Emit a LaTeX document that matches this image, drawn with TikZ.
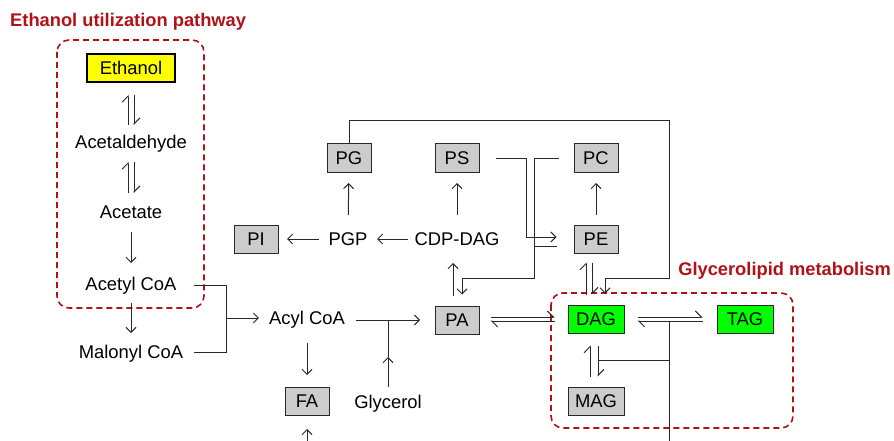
\documentclass[tikz,border=0pt]{standalone}
\usepackage{fontspec}
\setmainfont{Liberation Sans}
\usetikzlibrary{arrows.meta}
\definecolor{dred}{RGB}{176,18,24}
\definecolor{lgray}{RGB}{204,204,204}
\definecolor{lcol}{RGB}{40,40,40}
\definecolor{bgreen}{RGB}{0,255,0}
\definecolor{byellow}{RGB}{255,255,0}
\tikzset{
  txt/.style={font=\fontsize{18.4}{20}\selectfont, inner sep=0pt},
  ttl/.style={font=\fontsize{18.3}{20}\selectfont\bfseries, text=dred, inner sep=0pt, anchor=west},
  gbox/.style={txt, draw=lcol, line width=1pt, fill=lgray, minimum width=44pt, minimum height=28pt},
  wbox/.style={gbox, minimum width=56pt},
  grbox/.style={wbox, fill=bgreen},
  ybox/.style={txt, draw=black, line width=1.6pt, fill=byellow, minimum width=88pt, minimum height=28pt},
  conn/.style={draw=lcol, line width=1pt},
  arr/.style={conn, -{Straight Barb[length=5pt,width=10pt]}},
  harp/.style={conn, -{Straight Barb[left,length=6pt,width=12pt]}},
  region/.style={draw=dred, line width=1.6pt, dash pattern=on 6pt off 4pt, rounded corners=12pt},
}
\begin{document}
\begin{tikzpicture}[x=1pt,y=-1pt]
\useasboundingbox (0,0) rectangle (894,441);
% titles and regions
\node[ttl] (t1) at (10,22) {Ethanol utilization pathway};
\node[ttl, anchor=east] (t2) at (891,271) {Glycerolipid metabolism};
\draw[region] (57,40) rectangle (204,308);
\draw[region] (551,293) rectangle (793,428);
% nodes
\node[ybox] (eth) at (131,68) {Ethanol};
\node[txt] (ald) at (131,144) {Acetaldehyde};
\node[txt] (ace) at (131,212) {Acetate};
\node[txt] (acc) at (131,286) {Acetyl CoA};
\node[txt] (mal) at (131,354) {Malonyl CoA};
\node[txt] (acyl) at (307,320) {Acyl CoA};
\node[gbox] (fa) at (307,401) {FA};
\node[txt] (gly) at (388,404) {Glycerol};
\node[gbox] (pa) at (457,320) {PA};
\node[gbox] (pi) at (256,239) {PI};
\node[txt] (pgp) at (348,239) {PGP};
\node[txt] (cdp) at (457,239) {CDP-DAG};
\node[gbox] (pg) at (349,158) {PG};
\node[gbox] (ps) at (457,158) {PS};
\node[gbox] (pc) at (596,158) {PC};
\node[gbox] (pe) at (596,239) {PE};
\node[grbox] (dag) at (596,319) {DAG};
\node[grbox] (tag) at (745,319) {TAG};
\node[wbox] (mag) at (596,401) {MAG};
% coordinates
\coordinate (j1) at (226,318);
\coordinate (gm) at (388,357);
\coordinate (fabot) at (307,441);
\coordinate (lp1) at (669,121);
\coordinate (lp2) at (605,278);
\coordinate (psj) at (526,237);
\coordinate (pcj) at (534,278);
\coordinate (tj) at (669,321);
\coordinate (tbot) at (669,441);
\coordinate (mj) at (598,360);
% ethanol pathway
\draw[harp, shorten <=19pt, shorten >=27pt] ([xshift=-3pt]ald.center) -- ([xshift=-3pt]eth.center);
\draw[harp, shorten <=27pt, shorten >=19pt] ([xshift=3pt]eth.center) -- ([xshift=3pt]ald.center);
\draw[harp, shorten <=19pt, shorten >=18pt] ([xshift=-3pt]ace.center) -- ([xshift=-3pt]ald.center);
\draw[harp, shorten <=18pt, shorten >=19pt] ([xshift=3pt]ald.center) -- ([xshift=3pt]ace.center);
\draw[arr, shorten <=20pt, shorten >=23pt] (ace.center) -- (acc.center);
\draw[arr, shorten <=17pt, shorten >=21pt] (acc.center) -- (mal.center);
\draw[conn] ([xshift=63pt,yshift=1pt]acc.center) -| (j1);
\draw[conn] ([xshift=63pt,yshift=2pt]mal.center) -| (j1);
\draw[arr, shorten >=10pt] (j1) -- (j1 -| acyl.west);
% acyl CoA
\draw[arr, shorten <=49pt, shorten >=37pt] (acyl.center) -- (pa.center);
\draw[arr, shorten <=17pt] (gly.center) -- (gm);
\draw[conn] (gm) -- (gly.center |- acyl.center);
\draw[arr, shorten <=23pt, shorten >=26pt] (acyl.center) -- (fa.center);
\draw[arr, shorten >=28pt] (fabot) -- (fa.center);
% phospholipids
\draw[arr, shorten <=49pt, shorten >=29pt] (cdp.center) -- (pgp.center);
\draw[arr, shorten <=29pt, shorten >=31pt] (pgp.center) -- (pi.center);
\draw[arr, shorten <=24pt, shorten >=25pt] (pgp.center) -- (pg.center);
\draw[arr, shorten <=24pt, shorten >=25pt] (cdp.center) -- (ps.center);
\draw[arr, shorten <=24pt, shorten >=25pt] (pe.center) -- (pc.center);
\draw[arr, shorten <=10pt, shorten >=24pt] ([xshift=-4pt]pa.north) -- ([xshift=-4pt]cdp.center);
\draw[arr, shorten >=11pt] (pg.north) |- (lp1) |- (lp2) -- (lp2 |- dag.north);
\draw[arr, shorten >=17pt] ([xshift=16pt]ps.east) -| (psj) -- (psj -| pe.west);
\draw[arr, shorten >=11pt] ([xshift=-15pt]pc.west) -| (pcj) -| ([xshift=5pt]pa.north);
\draw[conn] ([xshift=-17pt,yshift=-7pt]pe.west) -- ([yshift=-7pt]pe.west -| pcj);
% glycerolipids
\draw[harp, shorten <=11pt, shorten >=13pt] ([yshift=3pt]pa.east) -- ([yshift=2pt]dag.west);
\draw[harp, shorten <=13pt, shorten >=11pt] ([yshift=-2pt]dag.west) -- ([yshift=-1pt]pa.east);
\draw[harp, shorten <=10pt, shorten >=9pt] ([xshift=-10pt]dag.north) -- ([xshift=-10pt]pe.south);
\draw[harp, shorten <=9pt, shorten >=10pt] ([xshift=-4pt]pe.south) -- ([xshift=-4pt]dag.north);
\draw[harp, shorten <=13pt, shorten >=14pt] ([yshift=2pt]dag.east) -- ([yshift=2pt]tag.west);
\draw[harp, shorten <=14pt, shorten >=13pt] ([yshift=-2pt]tag.west) -- ([yshift=-2pt]dag.east);
\draw[harp, shorten <=10pt, shorten >=12pt] ([xshift=-6pt]mag.north) -- ([xshift=-6pt]dag.south);
\draw[harp, shorten <=12pt, shorten >=10pt] ([xshift=2pt]dag.south) -- ([xshift=2pt]mag.north);
\draw[conn] (tbot) -- (tj);
\draw[conn] (mj) -- (mj -| tj);
\end{tikzpicture}
\end{document}
